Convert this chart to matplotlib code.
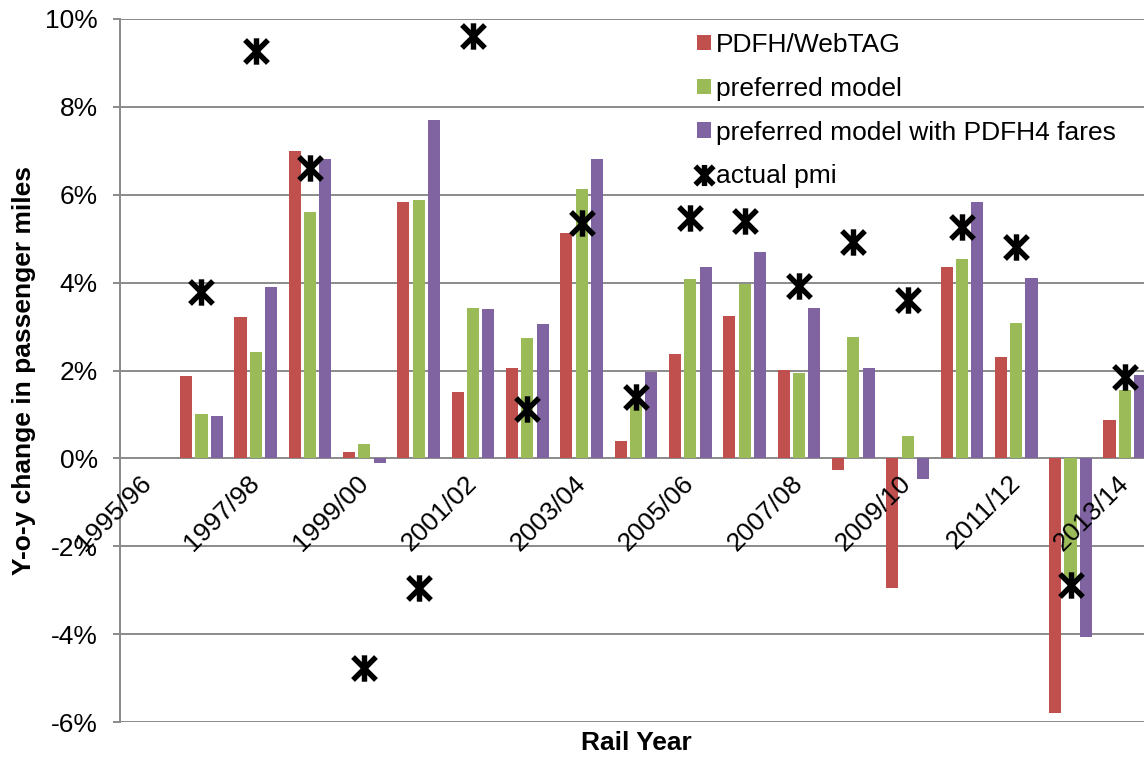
import numpy as np
import matplotlib
matplotlib.use("Agg")
import matplotlib.pyplot as plt
from matplotlib.path import Path
from matplotlib.markers import MarkerStyle

plt.rcParams['font.family'] = ['Liberation Sans', 'DejaVu Sans']

# Rail years (y-o-y change, % of passenger miles)
years = ["1995/96", "1996/97", "1997/98", "1998/99", "1999/00", "2000/01",
         "2001/02", "2002/03", "2003/04", "2004/05", "2005/06", "2006/07",
         "2007/08", "2008/09", "2009/10", "2010/11", "2011/12", "2012/13",
         "2013/14"]
pdfh_webtag = [np.nan, 1.88, 3.22, 7.00, 0.14, 5.84, 1.52, 2.06, 5.12, 0.40,
               2.38, 3.24, 2.01, -0.26, -2.96, 4.35, 2.30, -5.79, 0.87]
preferred = [np.nan, 1.02, 2.43, 5.61, 0.32, 5.88, 3.43, 2.73, 6.14, 1.35,
             4.08, 3.98, 1.95, 2.76, 0.52, 4.53, 3.09, -2.75, 1.56]
preferred_pdfh4 = [np.nan, 0.96, 3.89, 6.82, -0.10, 7.69, 3.40, 3.05, 6.81,
                   1.97, 4.36, 4.69, 3.43, 2.05, -0.47, 5.84, 4.11, -4.06, 1.90]
actual_pmi = [np.nan, 3.78, 9.27, 6.62, -4.78, -2.96, 9.61, 1.12, 5.35, 1.40,
              5.46, 5.41, 3.92, 4.93, 3.60, 5.27, 4.82, -2.88, 1.85]

series_names = ["PDFH/WebTAG", "preferred model",
                "preferred model with PDFH4 fares", "actual pmi"]
y_ticks = [-6, -4, -2, 0, 2, 4, 6, 8, 10]
y_tick_labels = ["-6%", "-4%", "-2%", "0%", "2%", "4%", "6%", "8%", "10%"]

colors = ["#C0504D", "#9BBB59", "#8064A2"]
grid_color = "#8a8a8a"

W, H = 1144, 758
fig = plt.figure(figsize=(W / 100, H / 100), dpi=100)
ax = fig.add_axes([120 / W, (H - 722) / H, (1152 - 120) / W, (722 - 19) / H])

x = np.arange(len(years))
step = 0.282
width = 0.222
handles = []
for i, (vals, c, name) in enumerate(zip([pdfh_webtag, preferred, preferred_pdfh4],
                                        colors, series_names[:3])):
    h = ax.bar(x + (i - 1) * step, vals, width=width, color=c, label=name,
               zorder=2, edgecolor='none')
    handles.append(h)

# asterisk-style marker: an X crossed by a vertical stroke
star_path = Path([(-1, -1), (1, 1), (-1, 1), (1, -1), (0, -1.15), (0, 1.15)],
                 [Path.MOVETO, Path.LINETO, Path.MOVETO, Path.LINETO,
                  Path.MOVETO, Path.LINETO])
star = MarkerStyle(star_path, capstyle='butt')
line, = ax.plot(x, actual_pmi, linestyle='none', marker=star, markersize=19,
                markeredgewidth=3.9, color='black', markeredgecolor='black',
                label=series_names[3], zorder=4)
handles.append(line)

ax.set_xlim(-0.5, len(years) - 0.5)
ax.set_ylim(-6, 10)
ax.set_yticks(y_ticks)
ax.set_yticklabels(y_tick_labels)
ax.yaxis.grid(True, color=grid_color, linewidth=1.4, zorder=0)
ax.set_axisbelow(True)
ax.xaxis.set_zorder(5)

for s in ['top', 'right']:
    ax.spines[s].set_visible(False)
ax.spines['left'].set_color(grid_color)
ax.spines['left'].set_linewidth(1.4)
ax.spines['bottom'].set_position(('data', 0))
ax.spines['bottom'].set_visible(False)

ax.tick_params(axis='y', direction='out', length=5, width=1.4,
               color=grid_color, labelsize=19, pad=11)
ax.set_xticks(x[::2])
ax.set_xticklabels(years[::2], rotation=45, ha='right', va='center',
                   rotation_mode='anchor', fontsize=19)
ax.tick_params(axis='x', length=0, pad=15)

ax.set_ylabel("Y-o-y change in passenger miles", fontsize=19,
              fontweight='bold')
ax.yaxis.set_label_coords(-0.081, 0.5)
ax.set_xlabel("Rail Year", fontsize=19, fontweight='bold')
ax.xaxis.set_label_coords(0.5, -0.013)

leg = ax.legend(handles, series_names, loc='upper left',
                bbox_to_anchor=(697 / W, (H - 33) / H),
                bbox_transform=fig.transFigure, frameon=False, fontsize=19,
                borderpad=0, borderaxespad=0, labelspacing=0.75,
                handlelength=0.53, handleheight=0.53, handletextpad=0.2,
                markerscale=0.8)

fig.savefig("out.png", dpi=100)
